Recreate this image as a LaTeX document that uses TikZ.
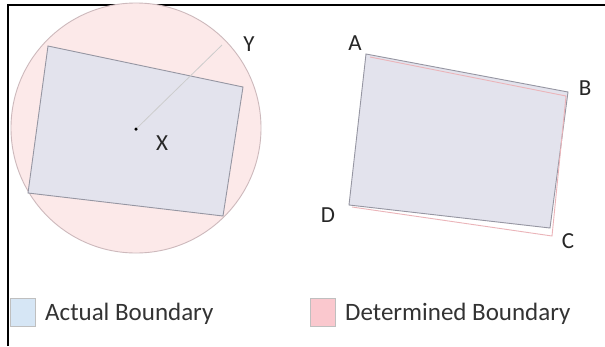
\documentclass[tikz,border=0pt]{standalone}
\usepackage{fontspec}
\setmainfont{Carlito}
\begin{document}
\begin{tikzpicture}[x=1pt,y=-1pt,
  lbl/.style={font=\fontsize{23}{27}\selectfont, text=black!85, inner sep=0pt},
  leg/.style={font=\fontsize{25}{30}\selectfont, text=black!80, inner sep=0pt, anchor=west},
  actual/.style={fill=rectfill, draw=rectline, line width=0.9pt},
  determined/.style={draw=pinkline, line width=0.9pt},
  swatch/.style={minimum width=25pt, minimum height=28pt, inner sep=0pt, line width=0.8pt}]
\definecolor{circfill}{RGB}{252,233,233}
\definecolor{circline}{RGB}{205,185,188}
\definecolor{rectfill}{RGB}{227,227,237}
\definecolor{rectline}{RGB}{150,150,162}
\definecolor{pinkline}{RGB}{235,180,185}
\definecolor{legblue}{RGB}{214,230,245}
\definecolor{legpink}{RGB}{250,200,206}
\useasboundingbox (0,0) rectangle (605,346);
\fill[white] (0,0) rectangle (605,346);
% frame
\draw[line width=2.2pt] (8,346) -- (8,5) -- (605,5);
% left figure
\node[circle, draw=circline, fill=circfill, line width=0.9pt, minimum size=250pt, inner sep=0pt] (circ) at (136,128) {};
\draw[actual] (48,46) -- (243,87) -- (223,216) -- (28,193) -- cycle;
\coordinate (ctr) at (136,129);
\coordinate (yend) at (222,45);
\draw[black!20, line width=0.8pt] (ctr) -- (yend);
\node[circle, fill=black, minimum size=3.5pt, inner sep=0pt] (dot) at (ctr) {};
\node[lbl] (X) at (162,143) {X};
\node[lbl] (Y) at (249,44) {Y};
% right figure
\draw[actual] (366,54) -- (568,92) -- (550,228) -- (349,205) -- cycle;
\draw[determined] (370,57) -- (566,96) -- (552,236) -- (352,207);
\node[lbl] (A) at (355,43) {A};
\node[lbl] (B) at (585,88) {B};
\node[lbl] (C) at (568,241) {C};
\node[lbl] (D) at (328,215) {D};
% legend
\node[swatch, fill=legblue, draw=black!25] (sw1) at (23,312) {};
\node[leg] (t1) at (45,314) {Actual Boundary};
\node[swatch, fill=legpink, draw=black!25] (sw2) at (323,312) {};
\node[leg] (t2) at (345,314) {Determined Boundary};
\end{tikzpicture}
\end{document}
